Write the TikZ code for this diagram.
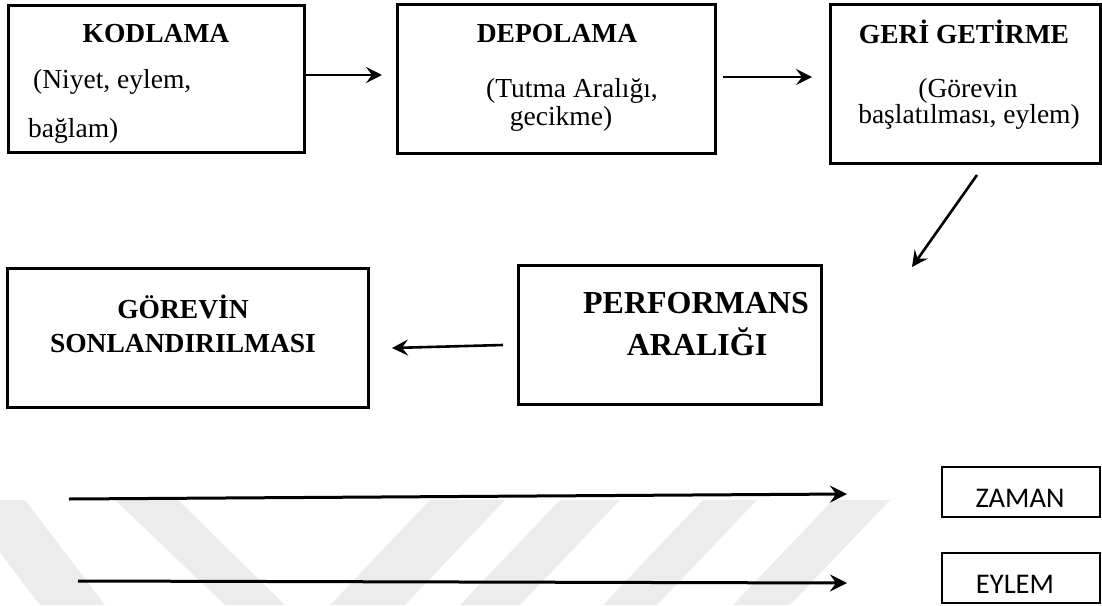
\documentclass[tikz,border=0pt]{standalone}
\usepackage{fontspec}
\setmainfont{Liberation Serif}
\newfontfamily\calib{Carlito}
\usetikzlibrary{arrows.meta}
\definecolor{wm}{RGB}{236,236,236}
\tikzset{
  boxnode/.style={draw=black, line width=3pt, rectangle, inner sep=0pt},
  smallbox/.style={draw=black, line width=1.3pt, rectangle, inner sep=0pt},
  arr/.style={line width=2.6pt, -{Stealth[length=16pt,width=16pt,inset=6pt]}},
  tarr/.style={line width=3pt, -{Stealth[length=17pt,width=17pt,inset=6pt]}},
  ttl/.style={font=\fontsize{27.5}{31}\selectfont\bfseries, inner sep=0pt, anchor=base},
  bigttl/.style={font=\fontsize{32}{36}\selectfont\bfseries, inner sep=0pt, anchor=base},
  body/.style={font=\fontsize{27.5}{31}\selectfont, inner sep=0pt, anchor=base},
  lbl/.style={font=\calib\fontsize{28.5}{31}\selectfont, inner sep=0pt, anchor=base},
}
\begin{document}
\begin{tikzpicture}[x=1pt,y=-1pt]
\useasboundingbox (0,0) rectangle (1102,605);
% watermark stripes
\fill[wm] (-40,500) -- (25,500) -- (105,605) -- (40,605) -- cycle;
\fill[wm] (115,500) -- (178,500) -- (285,605) -- (225,605) -- cycle;
\fill[wm] (430,500) -- (505,500) -- (405,605) -- (330,605) -- cycle;
\fill[wm] (560,500) -- (620,500) -- (520,605) -- (460,605) -- cycle;
\fill[wm] (703,500) -- (757,500) -- (657,605) -- (603,605) -- cycle;
\fill[wm] (833,500) -- (890,500) -- (790,605) -- (733,605) -- cycle;
% boxes
\node[boxnode, minimum width=296pt, minimum height=147pt] (kod) at (156,78.5) {};
\node[boxnode, minimum width=318pt, minimum height=149pt] (dep) at (556,78.5) {};
\node[boxnode, minimum width=270pt, minimum height=159pt] (geri) at (965,83.5) {};
\node[boxnode, minimum width=303pt, minimum height=139pt] (perf) at (669.5,334.5) {};
\node[boxnode, minimum width=361pt, minimum height=139pt] (gor) at (187.5,337.5) {};
\node[smallbox, minimum width=158pt, minimum height=50pt] (zaman) at (1021,492) {};
\node[smallbox, minimum width=158pt, minimum height=50pt] (eylem) at (1021,578) {};
% texts
\node[ttl] (t1) at (156,42) {KODLAMA};
\node[body, anchor=base west] (t1a) at (33,88) {(Niyet, eylem,};
\node[body, anchor=base west] (t1b) at (28,137) {bağlam)};
\node[ttl] (t2) at (557,42) {DEPOLAMA};
\node[body] (t2a) at (572,97) {(Tutma Aralığı,};
\node[body] (t2b) at (561,125) {gecikme)};
\node[ttl] (t3) at (964,43) {GERİ GETİRME};
\node[body] (t3a) at (968,97) {(Görevin};
\node[body] (t3b) at (969,123) {başlatılması, eylem)};
\node[bigttl] (t4) at (696,313) {PERFORMANS};
\node[bigttl] (t4b) at (697,355) {ARALIĞI};
\node[ttl] (t5) at (183,318) {GÖREVİN};
\node[ttl] (t5b) at (183,352) {SONLANDIRILMASI};
\node[lbl] (t6) at (1020,507) {ZAMAN};
\node[lbl] (t7) at (1015,593) {EYLEM};
% connectors
\coordinate (a1e) at (382,75);
\draw[arr] (kod.east|-a1e) -- (a1e);
\coordinate (a2s) at (723,77);
\coordinate (a2e) at (812,77);
\draw[arr] (a2s) -- (a2e);
\coordinate (a3s) at (977,175);
\coordinate (a3e) at (912,267);
\draw[arr] (a3s) -- (a3e);
\coordinate (a4s) at (503,345);
\coordinate (a4e) at (392,348);
\draw[arr] (a4s) -- (a4e);
\coordinate (z1s) at (69,499);
\coordinate (z1e) at (847,494);
\draw[tarr] (z1s) -- (z1e);
\coordinate (e1s) at (78,581);
\coordinate (e1e) at (847,583);
\draw[tarr] (e1s) -- (e1e);
\end{tikzpicture}
\end{document}
